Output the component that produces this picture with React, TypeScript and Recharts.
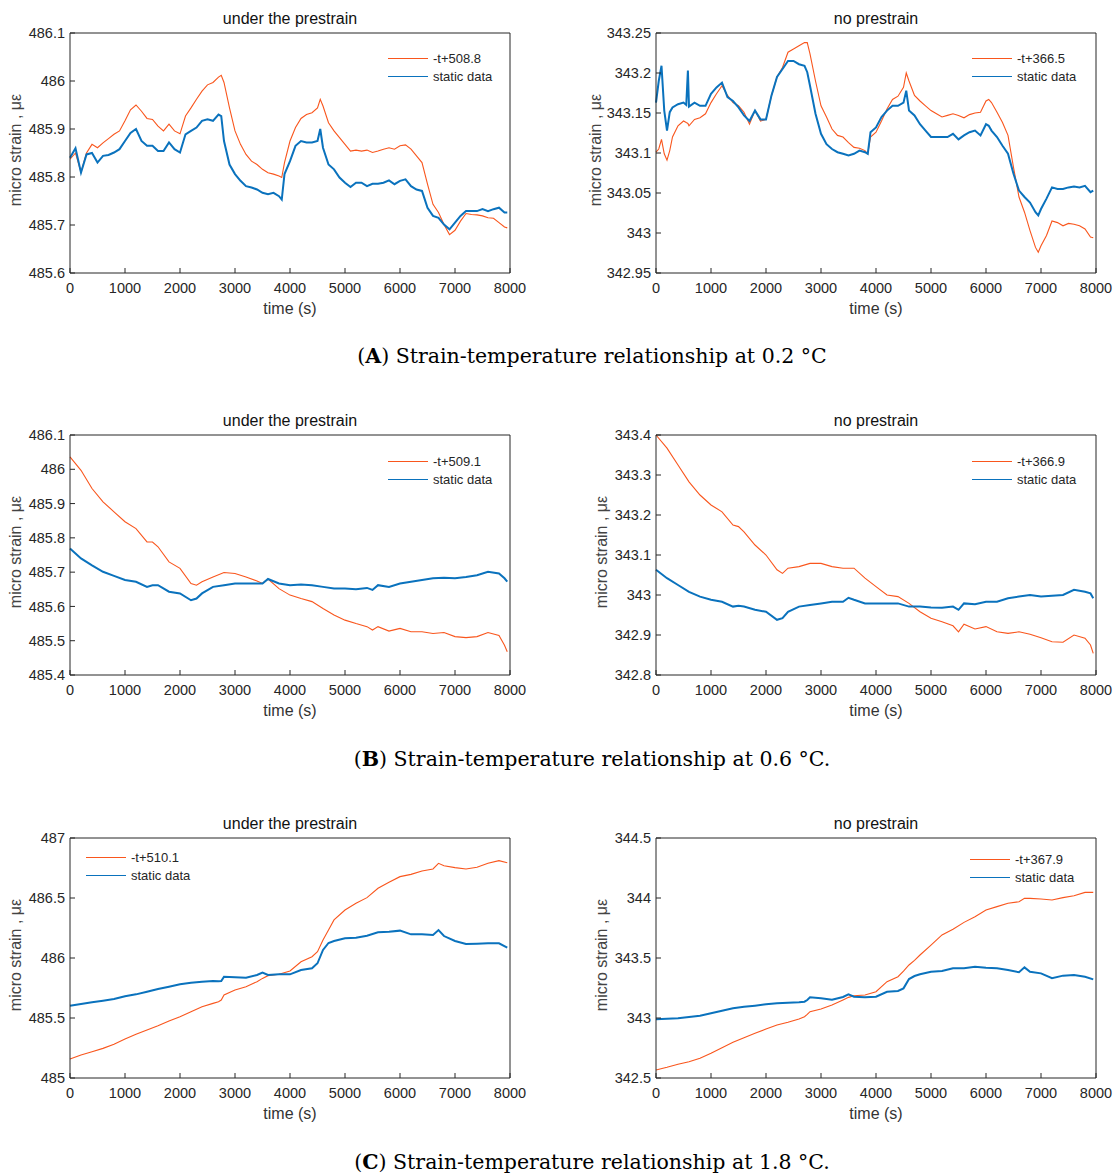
import { LineChart, Line, XAxis, YAxis } from "recharts";

// ---- (A) 0.2 °C ----
const timeA1 = [
  0, 100, 200, 300, 400, 500, 600, 700, 800, 900, 1000, 1100, 1200, 1300, 1400, 1500, 1600, 1700, 1800, 1900,
  2000, 2100, 2200, 2300, 2400, 2500, 2600, 2700, 2750, 2800, 2900, 3000, 3100, 3200, 3300, 3400, 3500, 3600,
  3700, 3800, 3850, 3900, 4000, 4100, 4200, 4300, 4400, 4500, 4550, 4600, 4700, 4800, 4900, 5000, 5100, 5200,
  5300, 5400, 5500, 5600, 5700, 5800, 5900, 6000, 6100, 6200, 6300, 6400, 6500, 6600, 6700, 6800, 6900, 7000,
  7100, 7200, 7300, 7400, 7500, 7600, 7700, 7800, 7900, 7950,
];
const fitA1 = [
  485.837, 485.85, 485.81, 485.85, 485.868, 485.861, 485.871, 485.88, 485.889, 485.896, 485.917, 485.94, 485.95,
  485.937, 485.922, 485.92, 485.906, 485.896, 485.91, 485.896, 485.89, 485.927, 485.944, 485.962, 485.979, 485.992,
  485.997, 486.008, 486.012, 485.997, 485.944, 485.896, 485.868, 485.847, 485.833, 485.826, 485.816, 485.809,
  485.806, 485.802, 485.799, 485.83, 485.875, 485.903, 485.922, 485.93, 485.934, 485.944, 485.962, 485.948,
  485.913, 485.896, 485.882, 485.868, 485.854, 485.856, 485.854, 485.856, 485.851, 485.854, 485.858, 485.861,
  485.858, 485.865, 485.867, 485.858, 485.844, 485.83, 485.785, 485.743, 485.726, 485.701, 485.68, 485.689,
  485.708, 485.724, 485.722, 485.721, 485.719, 485.715, 485.714, 485.705, 485.696, 485.694,
];
const staticA1 = [
  485.84, 485.86, 485.809, 485.847, 485.85, 485.83, 485.844, 485.846, 485.851, 485.858, 485.875, 485.892, 485.9,
  485.875, 485.865, 485.865, 485.854, 485.854, 485.872, 485.858, 485.851, 485.889, 485.896, 485.903, 485.917,
  485.92, 485.917, 485.93, 485.927, 485.875, 485.826, 485.806, 485.792, 485.781, 485.778, 485.774, 485.767,
  485.764, 485.767, 485.76, 485.753, 485.806, 485.833, 485.865, 485.875, 485.872, 485.872, 485.875, 485.9,
  485.861, 485.826, 485.816, 485.799, 485.788, 485.779, 485.788, 485.788, 485.781, 485.786, 485.786, 485.788,
  485.793, 485.785, 485.792, 485.795, 485.781, 485.774, 485.771, 485.736, 485.719, 485.715, 485.701, 485.691,
  485.705, 485.719, 485.729, 485.729, 485.729, 485.733, 485.729, 485.733, 485.736, 485.726, 485.726,
];

const timeA2 = [
  0, 50, 100, 150, 200, 250, 300, 400, 500, 550, 580, 600, 700, 800, 900, 1000, 1100, 1200, 1300, 1400, 1500,
  1600, 1700, 1800, 1900, 2000, 2100, 2200, 2300, 2400, 2500, 2600, 2700, 2750, 2800, 2900, 3000, 3100, 3200,
  3300, 3400, 3500, 3600, 3700, 3800, 3850, 3900, 4000, 4100, 4200, 4300, 4400, 4500, 4550, 4600, 4700, 4800,
  4900, 5000, 5100, 5200, 5300, 5400, 5500, 5600, 5700, 5800, 5900, 6000, 6050, 6100, 6200, 6300, 6400, 6500,
  6600, 6700, 6800, 6900, 6950, 7000, 7100, 7200, 7300, 7400, 7500, 7600, 7700, 7800, 7900, 7950,
];
const fitA2 = [
  343.101, 343.105, 343.117, 343.099, 343.091, 343.103, 343.12, 343.134, 343.14, 343.138, 343.137, 343.134,
  343.142, 343.144, 343.149, 343.163, 343.174, 343.184, 343.172, 343.163, 343.159, 343.151, 343.136, 343.153,
  343.14, 343.142, 343.172, 343.195, 343.207, 343.226, 343.23, 343.234, 343.238, 343.238, 343.224, 343.19,
  343.159, 343.145, 343.13, 343.122, 343.12, 343.113, 343.107, 343.106, 343.103, 343.099, 343.12, 343.126,
  343.14, 343.155, 343.167, 343.171, 343.182, 343.2, 343.19, 343.172, 343.165, 343.159, 343.153, 343.149,
  343.145, 343.147, 343.149, 343.147, 343.144, 343.148, 343.15, 343.151, 343.165, 343.167, 343.163, 343.151,
  343.138, 343.122, 343.082, 343.045, 343.026, 343.003, 342.982, 342.976, 342.984, 342.997, 343.015, 343.013,
  343.009, 343.012, 343.011, 343.009, 343.005, 342.995, 342.994,
];
const staticA2 = [
  343.163, 343.19, 343.209, 343.153, 343.128, 343.151, 343.157, 343.161, 343.163, 343.16, 343.203, 343.158,
  343.163, 343.159, 343.159, 343.174, 343.182, 343.188, 343.17, 343.165, 343.157, 343.147, 343.14, 343.153,
  343.142, 343.142, 343.172, 343.195, 343.205, 343.215, 343.215, 343.211, 343.209, 343.201, 343.184, 343.149,
  343.124, 343.111, 343.105, 343.101, 343.099, 343.097, 343.099, 343.103, 343.101, 343.099, 343.126, 343.132,
  343.145, 343.153, 343.159, 343.159, 343.163, 343.178, 343.153, 343.147, 343.136, 343.128, 343.12, 343.12,
  343.12, 343.12, 343.124, 343.117, 343.122, 343.126, 343.128, 343.122, 343.136, 343.134, 343.128, 343.12,
  343.109, 343.099, 343.074, 343.053, 343.045, 343.038, 343.026, 343.022, 343.03, 343.043, 343.057, 343.055,
  343.055, 343.057, 343.058, 343.057, 343.059, 343.051, 343.053,
];

// ---- (B) 0.6 °C ----
const timeB = [
  0, 200, 400, 600, 800, 1000, 1200, 1400, 1500, 1600, 1800, 2000, 2200, 2300, 2400, 2600, 2800, 3000, 3200,
  3400, 3500, 3600, 3800, 4000, 4200, 4400, 4600, 4800, 5000, 5200, 5400, 5500, 5600, 5800, 6000, 6200, 6400,
  6600, 6800, 7000, 7200, 7400, 7600, 7800, 7900, 7950,
];
const fitB1 = [
  486.036, 485.997, 485.944, 485.905, 485.876, 485.847, 485.827, 485.788, 485.788, 485.774, 485.73, 485.711,
  485.667, 485.662, 485.672, 485.686, 485.699, 485.696, 485.686, 485.674, 485.667, 485.68, 485.652, 485.633,
  485.623, 485.614, 485.594, 485.575, 485.56, 485.55, 485.541, 485.531, 485.541, 485.528, 485.536, 485.526,
  485.526, 485.521, 485.524, 485.512, 485.509, 485.512, 485.524, 485.515, 485.487, 485.468,
];
const staticB1 = [
  485.769, 485.74, 485.72, 485.701, 485.689, 485.677, 485.672, 485.657, 485.662, 485.662, 485.643, 485.638,
  485.618, 485.623, 485.638, 485.657, 485.662, 485.667, 485.667, 485.667, 485.667, 485.68, 485.667, 485.662,
  485.664, 485.662, 485.657, 485.652, 485.652, 485.65, 485.654, 485.648, 485.662, 485.657, 485.667, 485.672,
  485.677, 485.682, 485.684, 485.682, 485.686, 485.691, 485.701, 485.696, 485.682, 485.672,
];
const fitB2 = [
  343.4, 343.367, 343.325, 343.283, 343.25, 343.225, 343.208, 343.175, 343.171, 343.158, 343.125, 343.1,
  343.063, 343.054, 343.067, 343.071, 343.079, 343.079, 343.071, 343.067, 343.067, 343.067, 343.042, 343.021,
  343.0, 342.996, 342.979, 342.958, 342.942, 342.933, 342.923, 342.908, 342.927, 342.915, 342.921, 342.908,
  342.904, 342.908, 342.902, 342.893, 342.883, 342.882, 342.9, 342.892, 342.875, 342.854,
];
const staticB2 = [
  343.063, 343.042, 343.025, 343.008, 342.996, 342.988, 342.983, 342.971, 342.973, 342.971, 342.963, 342.958,
  342.938, 342.942, 342.958, 342.971, 342.975, 342.979, 342.983, 342.983, 342.993, 342.988, 342.979, 342.979,
  342.979, 342.979, 342.971, 342.971, 342.969, 342.968, 342.971, 342.963, 342.979, 342.977, 342.983, 342.983,
  342.992, 342.996, 343.0, 342.996, 342.998, 343.0, 343.013, 343.008, 343.004, 342.992,
];

// ---- (C) 1.8 °C ----
const timeC = [
  0, 200, 400, 600, 800, 1000, 1200, 1400, 1600, 1800, 2000, 2200, 2400, 2600, 2700, 2750, 2800, 3000, 3200,
  3400, 3500, 3600, 3800, 4000, 4200, 4400, 4500, 4600, 4700, 4800, 5000, 5200, 5400, 5600, 5800, 6000, 6200,
  6400, 6600, 6700, 6800, 7000, 7200, 7400, 7600, 7800, 7950,
];
const fitC1 = [
  485.158, 485.192, 485.219, 485.247, 485.281, 485.325, 485.364, 485.4, 485.436, 485.475, 485.511, 485.553,
  485.594, 485.622, 485.636, 485.65, 485.692, 485.733, 485.761, 485.803, 485.83, 485.853, 485.864, 485.892,
  485.969, 486.011, 486.053, 486.15, 486.233, 486.317, 486.4, 486.456, 486.503, 486.581, 486.631, 486.678,
  486.697, 486.725, 486.742, 486.789, 486.769, 486.753, 486.742, 486.756, 486.789, 486.811, 486.794,
];
const staticC1 = [
  485.603, 485.617, 485.631, 485.644, 485.658, 485.681, 485.697, 485.719, 485.742, 485.761, 485.781, 485.794,
  485.803, 485.808, 485.806, 485.808, 485.844, 485.839, 485.836, 485.858, 485.878, 485.858, 485.864, 485.864,
  485.9, 485.914, 485.956, 486.067, 486.125, 486.142, 486.164, 486.169, 486.186, 486.214, 486.219, 486.228,
  486.197, 486.197, 486.192, 486.233, 486.183, 486.142, 486.117, 486.119, 486.122, 486.122, 486.086,
];
const fitC2 = [
  342.567, 342.589, 342.614, 342.636, 342.664, 342.706, 342.753, 342.797, 342.836, 342.872, 342.908, 342.942,
  342.964, 342.992, 343.011, 343.03, 343.053, 343.075, 343.108, 343.15, 343.172, 343.186, 343.192, 343.219,
  343.303, 343.344, 343.39, 343.442, 343.48, 343.525, 343.608, 343.692, 343.739, 343.797, 343.844, 343.9,
  343.928, 343.956, 343.969, 343.997, 343.997, 343.992, 343.983, 344.003, 344.019, 344.047, 344.047,
];
const staticC2 = [
  342.989, 342.994, 342.997, 343.008, 343.019, 343.039, 343.061, 343.081, 343.094, 343.103, 343.114, 343.122,
  343.128, 343.131, 343.136, 343.15, 343.172, 343.164, 343.153, 343.175, 343.197, 343.178, 343.172, 343.178,
  343.219, 343.225, 343.247, 343.325, 343.35, 343.364, 343.386, 343.392, 343.414, 343.414, 343.428, 343.419,
  343.414, 343.4, 343.381, 343.422, 343.386, 343.372, 343.331, 343.353, 343.358, 343.344, 343.322,
];

const timeTicks = [0, 1000, 2000, 3000, 4000, 5000, 6000, 7000, 8000];
const ticksA1 = [485.6, 485.7, 485.8, 485.9, 486, 486.1];
const ticksA2 = [342.95, 343, 343.05, 343.1, 343.15, 343.2, 343.25];
const ticksB1 = [485.4, 485.5, 485.6, 485.7, 485.8, 485.9, 486, 486.1];
const ticksB2 = [342.8, 342.9, 343, 343.1, 343.2, 343.3, 343.4];
const ticksC1 = [485, 485.5, 486, 486.5, 487];
const ticksC2 = [342.5, 343, 343.5, 344, 344.5];

const ORANGE = "#f9561d";
const BLUE = "#0a72bd";
const AXIS = "#262626";

// plot area inside each chart box
const PL = 70;
const PT = 33;
const PW = 440;
const PH = 240;

type PanelProps = {
  x: number;
  y: number;
  title: string;
  time: number[];
  fit: number[];
  stat: number[];
  fitName: string;
  yTicks: number[];
  legendX: number;
  legendY: number;
  labelX?: number;
};

function Panel({ x, y, title, time, fit, stat, fitName, yTicks, legendX, legendY, labelX = 16 }: PanelProps) {
  const data = time.map((t, i) => ({ t, fit: fit[i], stat: stat[i] }));
  const domain = [yTicks[0], yTicks[yTicks.length - 1]];
  const rows = [
    { name: fitName, color: ORANGE },
    { name: "static data", color: BLUE },
  ];
  return (
    <div style={{ position: "absolute", left: x, top: y, width: 530, height: 323 }}>
      <LineChart width={530} height={323} data={data} margin={{ top: PT - 1, right: 19, bottom: 20, left: 0 }}>
        <XAxis
          xAxisId="b"
          dataKey="t"
          type="number"
          domain={[0, 8000]}
          ticks={timeTicks}
          height={30}
          stroke={AXIS}
          tickSize={-5}
          tickMargin={15}
          tick={{ fill: AXIS, fontSize: 14.5 }}
        />
        <XAxis
          xAxisId="t"
          orientation="top"
          type="number"
          domain={[0, 8000]}
          ticks={timeTicks}
          height={1}
          stroke={AXIS}
          tickSize={-5}
          tick={false}
        />
        <YAxis
          yAxisId="l"
          type="number"
          domain={domain}
          ticks={yTicks}
          width={PL}
          stroke={AXIS}
          tickSize={-5}
          tickMargin={10}
          tick={{ fill: AXIS, fontSize: 14.5 }}
        />
        <YAxis
          yAxisId="r"
          orientation="right"
          type="number"
          domain={domain}
          ticks={yTicks}
          width={1}
          stroke={AXIS}
          tickSize={-5}
          tick={false}
        />
        <Line xAxisId="b" yAxisId="l" type="linear" dataKey="fit" stroke={ORANGE} strokeWidth={1.1} dot={false} isAnimationActive={false} />
        <Line xAxisId="b" yAxisId="l" type="linear" dataKey="stat" stroke={BLUE} strokeWidth={2} dot={false} isAnimationActive={false} />
      </LineChart>
      <div style={{ position: "absolute", left: PL, top: 10, width: PW, textAlign: "center", fontSize: 16, lineHeight: "18px", color: "#111" }}>
        {title}
      </div>
      <div style={{ position: "absolute", left: PL, top: PT + PH + 27, width: PW, textAlign: "center", fontSize: 16, lineHeight: "18px", color: "#333" }}>
        time (s)
      </div>
      <div
        style={{
          position: "absolute",
          left: labelX,
          top: PT + PH / 2 - 3,
          transform: "translate(-50%, -50%) rotate(-90deg)",
          whiteSpace: "nowrap",
          fontSize: 16,
          color: "#444",
        }}
      >
        micro strain , με
      </div>
      {rows.map((r, i) => (
        <div
          key={r.name}
          style={{ position: "absolute", left: legendX, top: legendY + i * 18 - 9, height: 18, display: "flex", alignItems: "center", fontSize: 13, color: AXIS, whiteSpace: "nowrap" }}
        >
          <span style={{ display: "inline-block", width: 40, height: 0, borderTop: `1.4px solid ${r.color}`, marginRight: 5 }} />
          {r.name}
        </div>
      ))}
    </div>
  );
}

function Caption({ y, letter, text }: { y: number; letter: string; text: string }) {
  return (
    <div
      style={{
        position: "absolute",
        left: 292,
        top: y - 14,
        width: 600,
        textAlign: "center",
        fontFamily: '"DejaVu Serif", "Liberation Serif", serif',
        fontSize: 20.5,
        lineHeight: "28px",
        color: "#000",
      }}
    >
      (<b>{letter}</b>) {text}
    </div>
  );
}

export default function App() {
  return (
    <div
      style={{
        position: "absolute",
        left: 0,
        top: 0,
        width: 1117,
        height: 1176,
        background: "#fff",
        fontFamily: '"Liberation Sans", Arial, Helvetica, sans-serif',
        overflow: "hidden",
      }}
    >
      <Panel x={0} y={0} title="under the prestrain" time={timeA1} fit={fitA1} stat={staticA1} fitName="-t+508.8" yTicks={ticksA1} legendX={388} legendY={58} />
      <Panel x={586} y={0} title="no prestrain" time={timeA2} fit={fitA2} stat={staticA2} fitName="-t+366.5" yTicks={ticksA2} legendX={386} legendY={58} labelX={10} />
      <Caption y={356} letter="A" text="Strain-temperature relationship at 0.2 °C" />

      <Panel x={0} y={402} title="under the prestrain" time={timeB} fit={fitB1} stat={staticB1} fitName="-t+509.1" yTicks={ticksB1} legendX={388} legendY={59} />
      <Panel x={586} y={402} title="no prestrain" time={timeB} fit={fitB2} stat={staticB2} fitName="-t+366.9" yTicks={ticksB2} legendX={386} legendY={59} />
      <Caption y={759} letter="B" text="Strain-temperature relationship at 0.6 °C." />

      <Panel x={0} y={805} title="under the prestrain" time={timeC} fit={fitC1} stat={staticC1} fitName="-t+510.1" yTicks={ticksC1} legendX={86} legendY={52} />
      <Panel x={586} y={805} title="no prestrain" time={timeC} fit={fitC2} stat={staticC2} fitName="-t+367.9" yTicks={ticksC2} legendX={384} legendY={54} />
      <Caption y={1162} letter="C" text="Strain-temperature relationship at 1.8 °C." />
    </div>
  );
}
